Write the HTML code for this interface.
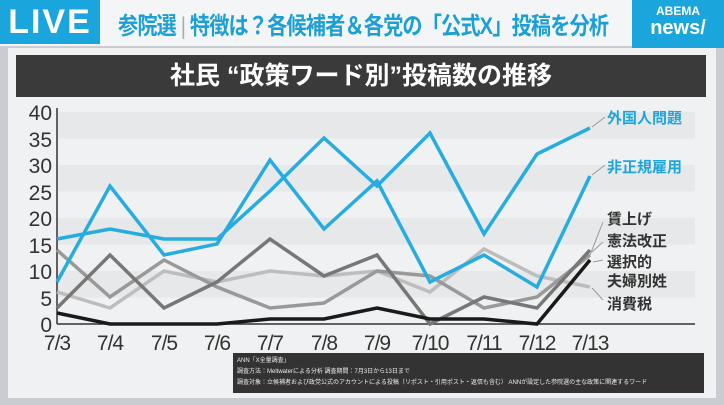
<!DOCTYPE html>
<html><head><meta charset="utf-8"><style>
body{margin:0;width:724px;height:405px;overflow:hidden;background:#c9ccd0;font-family:"Liberation Sans","Noto Sans CJK JP",sans-serif;position:relative}
.abs{position:absolute}
</style></head><body>
<div class="abs" style="left:0;top:0;width:724px;height:46px;background:#f4f5f6"></div>
<div class="abs" style="left:0;top:0;width:100px;height:44px;background:#1aa6dc;color:#fff;font-size:34px;font-weight:bold;line-height:44px;text-align:center;letter-spacing:2px">LIVE</div>
<div class="abs" style="left:118px;top:6px;font-size:24px;color:#1a9fd6;font-weight:bold;white-space:nowrap;letter-spacing:-1px;transform:scaleX(0.84);transform-origin:left top">参院選<span style="color:#aaa;font-weight:normal"> | </span>特徴は？各候補者＆各党の「公式X」投稿を分析</div>
<div class="abs" style="left:632px;top:0;width:92px;height:48px;background:#1aa6dc;color:#fff;font-weight:bold;text-align:center"><div style="font-size:12px;margin-top:4px">ABEMA</div><div style="font-size:20px;line-height:20px">news/</div></div>
<div class="abs" style="left:8px;top:48px;width:708px;height:350px;background:#f0f1f2"></div>
<div class="abs" style="left:16px;top:55px;width:690px;height:42px;background:#3a3a3a;color:#fff;font-size:25px;font-weight:bold;text-align:center;line-height:42px">社民 “政策ワード別”投稿数の推移</div>
<svg class="abs" style="left:0;top:0" width="724" height="405">
<g fill="#e6e8ea">
<rect x="58" y="112" width="637" height="26.5"/>
<rect x="58" y="165" width="637" height="26.5"/>
<rect x="58" y="218" width="637" height="26.5"/>
<rect x="58" y="271" width="637" height="26.5"/>
</g>
<line x1="57" y1="108" x2="57" y2="324" stroke="#333" stroke-width="1.5"/>
<line x1="57" y1="324" x2="695" y2="324" stroke="#333" stroke-width="1.5"/>
<g font-size="21" fill="#333" text-anchor="end" font-family="Liberation Sans, sans-serif">
<text x="52" y="120">40</text><text x="52" y="147">35</text><text x="52" y="173">30</text><text x="52" y="200">25</text><text x="52" y="226">20</text><text x="52" y="253">15</text><text x="52" y="279">10</text><text x="52" y="306">5</text><text x="52" y="332">0</text>
</g>
<g font-size="21" fill="#333" text-anchor="middle" font-family="Liberation Sans, sans-serif" letter-spacing="-1">
<text x="57" y="350">7/3</text><text x="110" y="350">7/4</text><text x="164" y="350">7/5</text><text x="217" y="350">7/6</text><text x="270" y="350">7/7</text><text x="324" y="350">7/8</text><text x="377" y="350">7/9</text><text x="430" y="350">7/10</text><text x="484" y="350">7/11</text><text x="537" y="350">7/12</text><text x="590" y="350">7/13</text>
</g>
<g fill="none" stroke-width="3.5" stroke-linejoin="miter">
<polyline stroke="#bdbdbd" points="57,292 110,308 164,271 217,282 270,271 324,276 377,271 430,292 484,249 537,276 590,287"/>
<polyline stroke="#999" points="57,250 110,297 164,260 217,287 270,308 324,303 377,271 430,276 484,308 537,297 590,255"/>
<polyline stroke="#777" points="57,308 110,255 164,308 217,282 270,239 324,276 377,255 430,324 484,297 537,308 590,250"/>
<polyline stroke="#1a1a1a" points="57,313 110,324 164,324 217,324 270,319 324,319 377,308 430,319 484,319 537,324 590,260"/>
<polyline stroke="#27ace0" points="57,282 110,186 164,255 217,244 270,160 324,229 377,181 430,282 484,255 537,287 590,176"/>
<polyline stroke="#27ace0" points="57,239 110,229 164,239 217,239 270,191 324,138 377,186 430,133 484,234 537,154 590,128"/>
</g>
<g stroke="#999" stroke-width="1" fill="none">
<line x1="592" y1="127" x2="605" y2="117"/><line x1="592" y1="175" x2="605" y2="165"/>
<line x1="590" y1="255" x2="603" y2="222"/><line x1="592" y1="252" x2="603" y2="242"/><line x1="593" y1="262" x2="603" y2="260"/><line x1="592" y1="288" x2="603" y2="300"/>
</g>
<g font-size="15" font-weight="bold" font-family="Liberation Sans, Noto Sans CJK JP, sans-serif">
<text x="607" y="123" fill="#1ea6dc">外国人問題</text>
<text x="607" y="172" fill="#1ea6dc">非正規雇用</text>
<text x="607" y="224" fill="#333">賃上げ</text>
<text x="607" y="246" fill="#333">憲法改正</text>
<text x="607" y="267" fill="#333">選択的</text>
<text x="607" y="286" fill="#333">夫婦別姓</text>
<text x="607" y="309" fill="#333">消費税</text>
</g>
</svg>
<div class="abs" style="left:233px;top:353px;width:471px;height:40px;background:#333;color:#eee;font-size:6px;line-height:11px;padding:3px 0 0 4px;box-sizing:border-box;white-space:nowrap;overflow:hidden">ANN「X全量調査」<br>調査方法：Meltwaterによる分析 調査期間：7月3日から13日まで<br>調査対象：立候補者および政党公式のアカウントによる投稿（リポスト・引用ポスト・返信も含む） ANNが設定した参院選の主な政策に関連するワード</div>
</body></html>
